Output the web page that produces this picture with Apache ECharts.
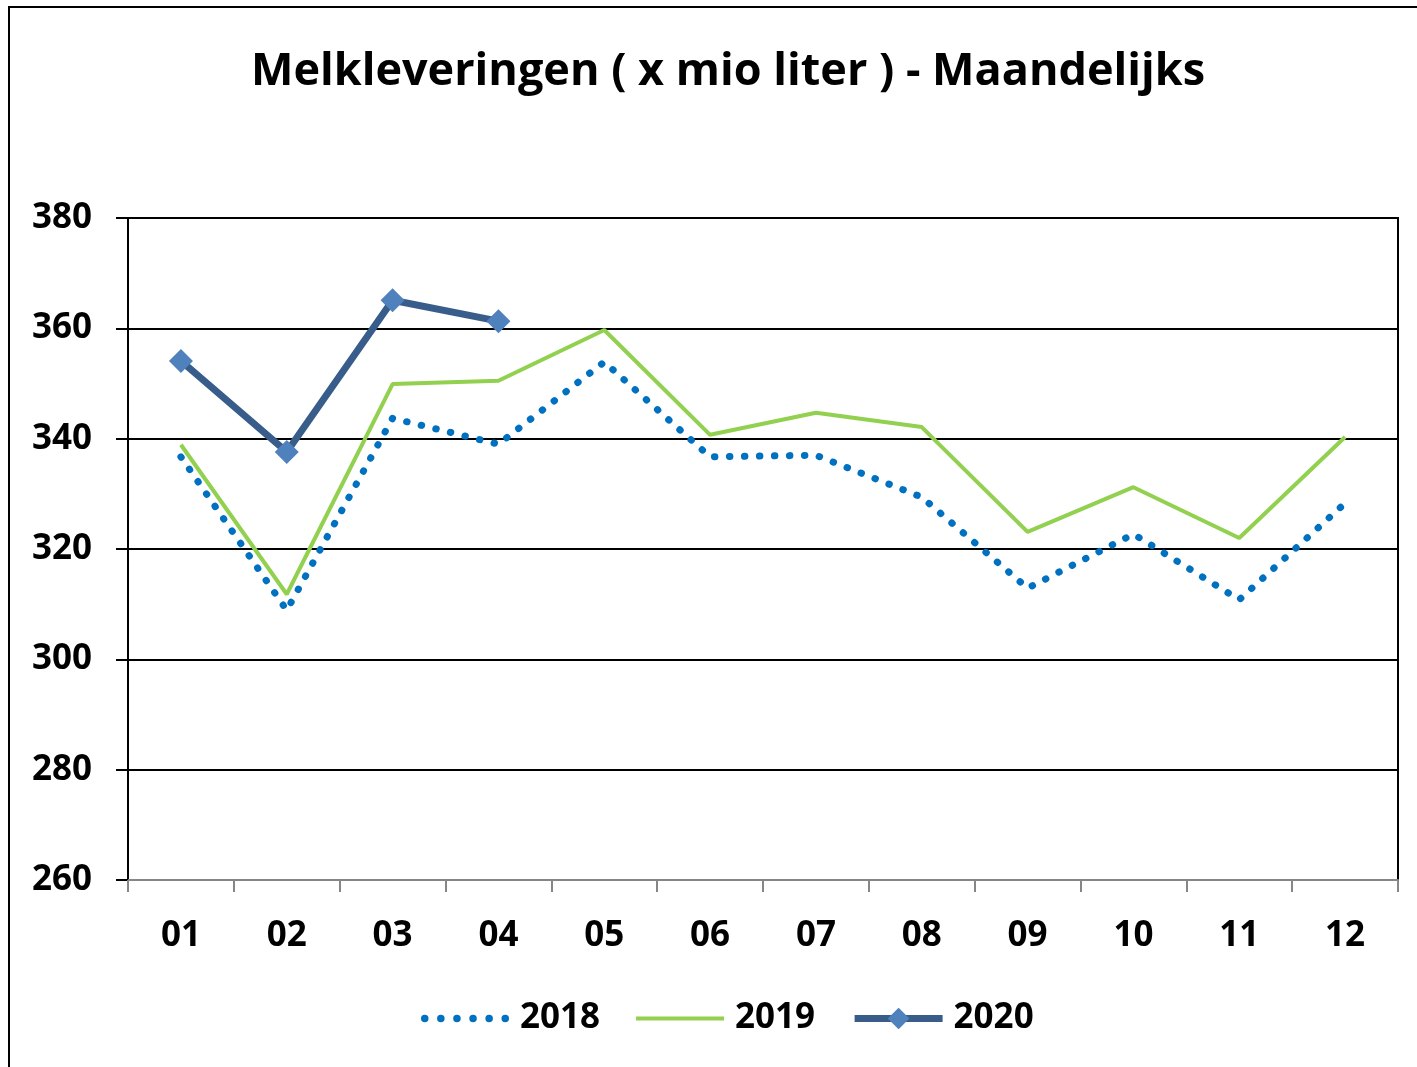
<!DOCTYPE html>
<html>
<head>
<meta charset="utf-8">
<script src="https://cdn.jsdelivr.net/npm/echarts@6/dist/echarts.min.js"></script>
<style>
  html, body { margin: 0; padding: 0; background: #fff; }
  #main { width: 1417px; height: 1067px; }
</style>
</head>
<body>
<div id="main"></div>
<script>
const chart = echarts.init(document.querySelector('#main'));

// maanden
const months = ['01', '02', '03', '04', '05', '06', '07', '08', '09', '10', '11', '12'];

// melkleveringen x mio liter
const y2018 = [336.7, 308.9, 343.7, 339.0, 353.9, 336.7, 337.0, 329.4, 312.9, 322.7, 310.8, 328.3];
const y2019 = [338.9, 311.8, 349.9, 350.5, 359.7, 340.7, 344.7, 342.1, 323.1, 331.2, 322.0, 340.3];
const y2020 = [354.1, 337.6, 365.1, 361.3];

const font = 'Open Sans';

// legenda-iconen: rij stippen en een dikke streep
let dots = 'path://';
for (let i = 0; i < 6; i++) {
    const cx = 3.5 + i * 15;
    dots += 'M' + (cx - 3.5) + ',3.5a3.5,3.5 0 1,0 7,0a3.5,3.5 0 1,0 -7,0';
}
const bar = 'path://M0,0H88V4H0Z';

let option = {
    animation: false,
    backgroundColor: '#fff',
    textStyle: { fontFamily: font },
    graphic: [
        {
            type: 'rect',
            shape: { x: 9, y: 7, width: 1420, height: 1070 },
            style: { fill: 'none', stroke: '#000', lineWidth: 2 },
            z: 100
        }
    ],
    title: {
        text: 'Melkleveringen ( x mio liter ) - Maandelijks',
        left: 246,
        top: 45,
        textStyle: { fontFamily: font, fontSize: 45, fontWeight: 'bold', color: '#000' }
    },
    legend: {
        bottom: 26,
        left: 416,
        itemWidth: 88,
        itemHeight: 27,
        itemGap: 36,
        lineStyle: { width: 'inherit' },
        textStyle: { fontFamily: font, fontSize: 35, fontWeight: 'bold', color: '#000', padding: [0, 0, 0, 6] },
        data: [
            { name: '2018', icon: dots },
            { name: '2019', icon: bar },
            { name: '2020' }
        ]
    },
    grid: {
        left: 128,
        right: 19,
        top: 218,
        bottom: 187,
        show: true,
        borderColor: '#000',
        borderWidth: 2
    },
    xAxis: {
        type: 'category',
        data: months,
        boundaryGap: true,
        axisLine: { lineStyle: { color: '#868686', width: 2 } },
        axisTick: { show: true, length: 12, lineStyle: { color: '#868686', width: 2 } },
        axisLabel: { margin: 39, fontFamily: font, fontSize: 35, fontWeight: 'bold', color: '#000' }
    },
    yAxis: {
        type: 'value',
        min: 260,
        max: 380,
        interval: 20,
        axisLine: { show: true, lineStyle: { color: '#000', width: 2 } },
        axisTick: { show: true, length: 12, lineStyle: { color: '#000', width: 2 } },
        splitLine: { lineStyle: { color: '#000', width: 2 } },
        axisLabel: { margin: 36, fontFamily: font, fontSize: 35, fontWeight: 'bold', color: '#000' }
    },
    series: [
        {
            name: '2018',
            type: 'line',
            data: y2018,
            symbol: 'none',
            lineStyle: { color: '#0070C0', width: 7, type: [0.5, 14.5], cap: 'round' },
            itemStyle: { color: '#0070C0' },
            z: 2
        },
        {
            name: '2019',
            type: 'line',
            data: y2019,
            symbol: 'none',
            lineStyle: { color: '#92D050', width: 4 },
            itemStyle: { color: '#92D050' },
            z: 3
        },
        {
            name: '2020',
            type: 'line',
            data: y2020,
            symbol: 'diamond',
            symbolSize: 24,
            lineStyle: { color: '#385D8A', width: 7 },
            itemStyle: { color: '#4F81BD' },
            z: 4
        }
    ]
};

chart.setOption(option);
</script>
</body>
</html>
